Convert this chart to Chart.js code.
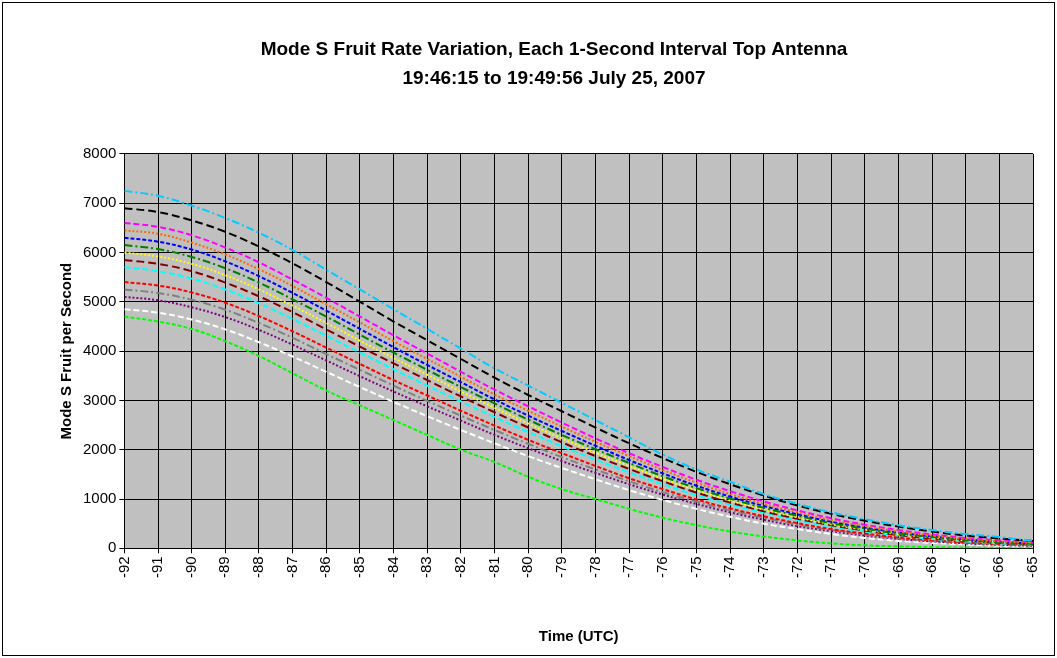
<!DOCTYPE html>
<html><head><meta charset="utf-8">
<script src="https://cdn.jsdelivr.net/npm/chart.js@4"></script>
<style>
body{margin:0;background:#fff}
#wrap{position:absolute;left:2px;top:2px;width:1051px;height:652px;border:1px solid #000}
</style></head><body>
<div id="wrap"><canvas id="c"></canvas></div>
<script>
const xs = [];
for (let v = -92; v <= -65; v++) xs.push(v);

const s1 = [7250,7150,6950,6700,6400,6050,5650,5250,4850,4450,4050,3650,3300,2950,2600,2250,1900,1600,1350,1100,900,730,590,470,370,290,230,150];
const s2 = [6900,6820,6650,6420,6120,5780,5400,5000,4600,4220,3840,3460,3110,2780,2450,2130,1830,1550,1300,1070,870,700,560,440,340,260,200,150];
const s3 = [6600,6520,6350,6100,5800,5450,5080,4700,4320,3950,3580,3220,2880,2550,2230,1930,1650,1390,1160,950,770,610,480,370,280,210,160,120];
const s4 = [6300,6220,6060,5820,5520,5180,4820,4450,4080,3720,3370,3020,2690,2380,2080,1790,1520,1270,1050,860,690,540,420,320,240,180,130,100];
const s5 = [6000,5920,5770,5540,5250,4920,4570,4210,3860,3520,3180,2850,2530,2230,1940,1670,1410,1180,970,790,630,490,380,290,220,160,120,90];
const s6 = [5700,5620,5470,5250,4970,4650,4310,3970,3630,3300,2980,2660,2360,2070,1800,1540,1300,1080,890,720,570,440,340,260,190,140,100,80];
const s7 = [5400,5330,5190,4980,4710,4400,4070,3740,3410,3100,2790,2490,2200,1930,1670,1420,1200,990,810,650,510,390,300,220,160,120,90,70];
const s8 = [5100,5030,4890,4690,4430,4130,3810,3490,3180,2880,2590,2300,2030,1770,1530,1300,1090,900,730,580,450,350,260,190,140,100,70,50];
const s9 = [4850,4780,4640,4440,4180,3890,3580,3270,2970,2680,2400,2130,1870,1630,1400,1180,980,800,640,500,390,290,210,150,110,80,50,40];
const s10 = [4700,4600,4450,4200,3900,3550,3200,2900,2600,2300,2000,1750,1450,1200,1000,800,620,470,340,240,160,100,60,40,25,15,10,5];
const s11 = [6450,6380,6200,5960,5660,5320,4950,4580,4200,3840,3480,3120,2790,2470,2160,1870,1590,1330,1100,900,730,570,450,340,260,190,140,110];
const s12 = [5850,5770,5620,5390,5110,4790,4440,4090,3750,3410,3080,2760,2450,2150,1870,1610,1360,1130,930,750,600,470,360,270,200,150,110,80];
const s13 = [5250,5180,5040,4840,4570,4270,3940,3620,3300,2990,2690,2400,2120,1850,1600,1360,1140,950,770,620,480,370,280,200,150,110,80,60];
const s14 = [6150,6070,5910,5680,5390,5050,4700,4330,3970,3620,3270,2940,2610,2300,2010,1730,1460,1220,1010,820,660,510,400,300,230,170,120,90];

const series = [s1,s2,s11,s3,s14,s4,s5,s12,s6,s7,s13,s8,s9,s10];
const colors = ['#00ccff','#000000','#ff6600','#ff00ff','#008000','#0000ff','#ffff00','#800000','#00ffff','#ff0000','#808080','#800080','#ffffff','#00ff00'];
const dashes = [[8,3,2,3],[8,4],[2,2],[6,3],[8,3,2,3],[4,2],[2,2],[8,4],[6,3],[4,2],[8,3,2,3],[2,2],[6,3],[4,2]];

new Chart(document.getElementById('c'), {
  type: 'line',
  data: {
    datasets: series.map((s, i) => ({
      data: s.map((y, j) => ({x: xs[j], y: y})),
      borderColor: colors[i], borderDash: dashes[i], borderWidth: 2,
      pointRadius: 0, tension: 0.4, fill: false
    }))
  },
  options: {
    responsive: true, maintainAspectRatio: false, animation: false,
    layout: {padding: {left: 51, right: 0, top: 10, bottom: 5}},
    plugins: {
      legend: {display: false},
      tooltip: {enabled: false},
      title: {display: true, color: '#000', padding: {top: 22, bottom: 60},
        text: ['Mode S Fruit Rate Variation, Each 1-Second Interval Top Antenna', '19:46:15 to 19:49:56 July 25, 2007'],
        font: {family: 'Liberation Sans', size: 19, weight: 'bold', lineHeight: 1.55}}
    },
    scales: {
      x: {type: 'linear', min: -92, max: -65,
        ticks: {stepSize: 1, color: '#000', maxRotation: 90, minRotation: 90, font: {family: 'Liberation Sans', size: 15}},
        grid: {color: '#000', drawTicks: true, tickLength: 5}, border: {color: '#000'},
        title: {display: true, text: 'Time (UTC)', color: '#000', padding: {top: 47, bottom: 4}, font: {family: 'Liberation Sans', size: 15, weight: 'bold'}}},
      y: {min: 0, max: 8000,
        ticks: {stepSize: 1000, color: '#000', font: {family: 'Liberation Sans', size: 15}, callback: v => String(v)},
        grid: {color: '#000', tickLength: 5}, border: {color: '#000'},
        title: {display: true, text: 'Mode S Fruit per Second', color: '#000', font: {family: 'Liberation Sans', size: 15, weight: 'bold'}}}
    }
  },
  plugins: [{id: 'bg', beforeDraw(c) {
    const a = c.chartArea, ctx = c.ctx;
    ctx.save(); ctx.fillStyle = '#c0c0c0';
    ctx.fillRect(a.left, a.top, a.right - a.left, a.bottom - a.top); ctx.restore();
  }}]
});
</script></body></html>
